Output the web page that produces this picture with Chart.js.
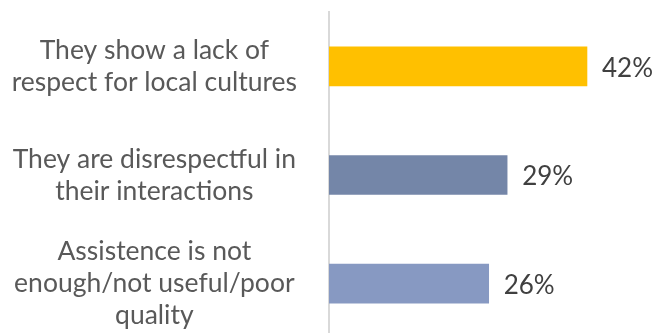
<!DOCTYPE html>
<html lang="en">
<head>
<meta charset="UTF-8">
<title>Perceptions</title>
<script src="https://cdn.jsdelivr.net/npm/chart.js"></script>
<style>
  html, body { margin: 0; padding: 0; background: #fff; overflow: hidden; }
  .box { position: relative; width: 657px; height: 338px; }
</style>
</head>
<body>
<div class="box">
  <canvas id="grafico"></canvas>
</div>
<script>
  const categorias = [
    ['They show a lack of', 'respect for local cultures'],
    ['They are disrespectful in', 'their interactions'],
    ['Assistence is not', 'enough/not useful/poor', 'quality']
  ];
  const valores = [42, 29, 26];
  const cores = ['#FFC000', '#7486A8', '#8799C2'];

  // writes "NN%" just past the end of each bar
  const rotulos = {
    id: 'rotulos',
    afterDatasetsDraw(chart) {
      const ctx = chart.ctx;
      const meta = chart.getDatasetMeta(0);
      ctx.save();
      ctx.font = '26px Lato';
      ctx.fillStyle = '#404040';
      ctx.textAlign = 'left';
      ctx.textBaseline = 'middle';
      meta.data.forEach((bar, i) => {
        ctx.fillText(valores[i] + '%', bar.x + 15, bar.y + 2);
      });
      ctx.restore();
    }
  };

  new Chart(document.getElementById('grafico'), {
    type: 'bar',
    data: {
      labels: categorias,
      datasets: [{
        data: valores,
        backgroundColor: cores,
        barThickness: 39,
        categoryPercentage: 1
      }]
    },
    options: {
      indexAxis: 'y',
      responsive: true,
      maintainAspectRatio: false,
      animation: false,
      layout: { padding: { top: 12, right: 0, bottom: 0, left: 0 } },
      plugins: { legend: { display: false }, tooltip: { enabled: false } },
      scales: {
        x: { display: false, min: 0, max: 53.4 },
        y: {
          afterFit(scale) {
            scale.width = 329;
            scale.paddingTop = 0;
            scale.paddingBottom = 0;
          },
          grid: { display: false, drawTicks: false },
          border: { display: true, color: '#D9D9D9', width: 2 },
          ticks: {
            crossAlign: 'center',
            padding: 32,
            color: '#595959',
            font: { family: 'Lato', size: 26.5, lineHeight: 1.21 }
          }
        }
      }
    },
    plugins: [rotulos]
  });
</script>
</body>
</html>
